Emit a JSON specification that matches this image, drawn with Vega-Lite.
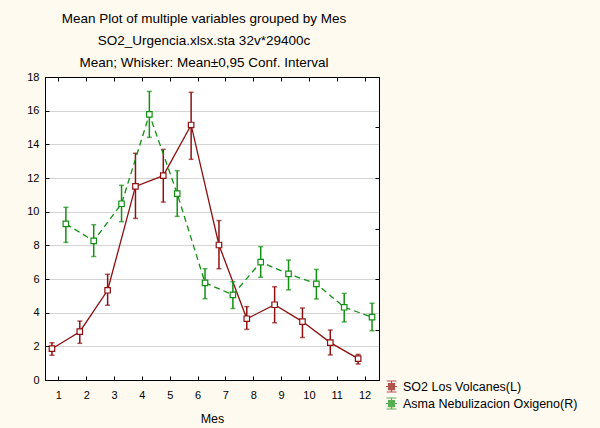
{
  "$schema": "https://vega.github.io/schema/vega-lite/v6.json",
  "autosize": "none",
  "width": 334,
  "height": 303,
  "padding": {"left": 45, "top": 77, "right": 221, "bottom": 48},
  "background": "#FFFAF0",
  "title": {
    "text": ["Mean Plot of multiple variables grouped by  Mes", "SO2_Urgencia.xlsx.sta 32v*29400c", "Mean; Whisker: Mean±0,95 Conf. Interval"],
    "fontSize": 13.5, "fontWeight": "normal", "font": "Liberation Sans", "color": "#000",
    "lineHeight": 22, "offset": 2, "anchor": "middle", "dx": -8
  },
  "datasets": {
    "so2": [
      {"Mes": 1, "serie": "SO2 Los Volcanes(L)", "mean": 1.86, "lo": 1.47, "hi": 2.22},
      {"Mes": 2, "serie": "SO2 Los Volcanes(L)", "mean": 2.87, "lo": 2.18, "hi": 3.5},
      {"Mes": 3, "serie": "SO2 Los Volcanes(L)", "mean": 5.33, "lo": 4.44, "hi": 6.28},
      {"Mes": 4, "serie": "SO2 Los Volcanes(L)", "mean": 11.5, "lo": 9.6, "hi": 13.47},
      {"Mes": 5, "serie": "SO2 Los Volcanes(L)", "mean": 12.14, "lo": 10.57, "hi": 13.7},
      {"Mes": 6, "serie": "SO2 Los Volcanes(L)", "mean": 15.15, "lo": 13.11, "hi": 17.09},
      {"Mes": 7, "serie": "SO2 Los Volcanes(L)", "mean": 8.02, "lo": 6.61, "hi": 9.47},
      {"Mes": 8, "serie": "SO2 Los Volcanes(L)", "mean": 3.64, "lo": 3.01, "hi": 4.36},
      {"Mes": 9, "serie": "SO2 Los Volcanes(L)", "mean": 4.47, "lo": 3.4, "hi": 5.54},
      {"Mes": 10, "serie": "SO2 Los Volcanes(L)", "mean": 3.47, "lo": 2.53, "hi": 4.28},
      {"Mes": 11, "serie": "SO2 Los Volcanes(L)", "mean": 2.22, "lo": 1.49, "hi": 2.97},
      {"Mes": 12, "serie": "SO2 Los Volcanes(L)", "mean": 1.27, "lo": 0.95, "hi": 1.52}
    ],
    "asma": [
      {"Mes": 1, "serie": "Asma Nebulizacion Oxigeno(R)", "mean": 6.18, "lo": 5.45, "hi": 6.84},
      {"Mes": 2, "serie": "Asma Nebulizacion Oxigeno(R)", "mean": 5.51, "lo": 4.89, "hi": 6.15},
      {"Mes": 3, "serie": "Asma Nebulizacion Oxigeno(R)", "mean": 6.98, "lo": 6.27, "hi": 7.71},
      {"Mes": 4, "serie": "Asma Nebulizacion Oxigeno(R)", "mean": 10.52, "lo": 9.61, "hi": 11.43},
      {"Mes": 5, "serie": "Asma Nebulizacion Oxigeno(R)", "mean": 7.38, "lo": 6.48, "hi": 8.29},
      {"Mes": 6, "serie": "Asma Nebulizacion Oxigeno(R)", "mean": 3.85, "lo": 3.22, "hi": 4.41},
      {"Mes": 7, "serie": "Asma Nebulizacion Oxigeno(R)", "mean": 3.37, "lo": 2.83, "hi": 3.89},
      {"Mes": 8, "serie": "Asma Nebulizacion Oxigeno(R)", "mean": 4.67, "lo": 4.07, "hi": 5.28},
      {"Mes": 9, "serie": "Asma Nebulizacion Oxigeno(R)", "mean": 4.2, "lo": 3.57, "hi": 4.75},
      {"Mes": 10, "serie": "Asma Nebulizacion Oxigeno(R)", "mean": 3.81, "lo": 3.21, "hi": 4.38},
      {"Mes": 11, "serie": "Asma Nebulizacion Oxigeno(R)", "mean": 2.88, "lo": 2.3, "hi": 3.43},
      {"Mes": 12, "serie": "Asma Nebulizacion Oxigeno(R)", "mean": 2.49, "lo": 1.95, "hi": 3.04}
    ]
  },
  "resolve": {"scale": {"y": "independent"}, "axis": {"x": "independent", "y": "independent"}},
  "layer": [
    {
      "data": {"name": "so2"},
      "encoding": {
        "x": {"field": "Mes", "type": "ordinal", "title": "Mes",
              "scale": {"paddingInner": 0, "paddingOuter": 0},
              "axis": {"orient": "bottom", "labelAngle": 0, "labelPadding": 13, "titlePadding": 12}},
        "xOffset": {"field": "serie", "type": "nominal",
                    "scale": {"domain": ["SO2 Los Volcanes(L)", "Asma Nebulizacion Oxigeno(R)"], "paddingInner": 0, "paddingOuter": 0}},
        "color": {"field": "serie", "type": "nominal",
                  "scale": {"domain": ["SO2 Los Volcanes(L)", "Asma Nebulizacion Oxigeno(R)"], "range": ["#8E0F0F", "#119011"]},
                  "legend": {"orient": "none", "legendX": 340, "legendY": 303, "title": null, "padding": 0,
                             "symbolType": "M-0.9,-1H0.9M0,-1V-0.55M0,0.55V1M-0.9,1H0.9M-1,0H-0.55M0.55,0H1M-0.55,-0.55H0.55V0.55H-0.55Z",
                             "symbolSize": 121, "symbolFillColor": "white", "symbolStrokeWidth": 1.2,
                             "labelFontSize": 12.5, "labelFont": "Liberation Sans", "labelColor": "#000", "labelOffset": 5, "rowPadding": 0, "labelLimit": 400}}
      },
      "layer": [
        {"mark": {"type": "rule", "strokeWidth": 1.5},
         "encoding": {"y": {"field": "lo", "type": "quantitative", "title": null, "scale": {"domain": [0, 18]},
                            "axis": {"orient": "left", "values": [0,2,4,6,8,10,12,14,16,18], "grid": true, "gridDash": [1, 1], "gridColor": "#a8a8a8", "labelPadding": 10}},
                      "y2": {"field": "hi"}}},
        {"mark": {"type": "tick", "thickness": 1.5, "size": 5},
         "encoding": {"y": {"field": "lo", "type": "quantitative", "title": null, "scale": {"domain": [0, 18]},
                            "axis": {"orient": "left", "values": [0,2,4,6,8,10,12,14,16,18], "grid": true, "gridDash": [1, 1], "gridColor": "#a8a8a8", "labelPadding": 10}}}},
        {"mark": {"type": "tick", "thickness": 1.5, "size": 5},
         "encoding": {"y": {"field": "hi", "type": "quantitative", "title": null, "scale": {"domain": [0, 18]},
                            "axis": {"orient": "left", "values": [0,2,4,6,8,10,12,14,16,18], "grid": true, "gridDash": [1, 1], "gridColor": "#a8a8a8", "labelPadding": 10}}}},
        {"mark": {"type": "line", "strokeWidth": 1.3},
         "encoding": {"y": {"field": "mean", "type": "quantitative", "title": null, "scale": {"domain": [0, 18]},
                            "axis": {"orient": "left", "values": [0,2,4,6,8,10,12,14,16,18], "grid": true, "gridDash": [1, 1], "gridColor": "#a8a8a8", "labelPadding": 10}}}},
        {"mark": {"type": "point", "shape": "square", "size": 30, "filled": false, "fill": "white", "strokeWidth": 1.2, "opacity": 1},
         "encoding": {"y": {"field": "mean", "type": "quantitative", "title": null, "scale": {"domain": [0, 18]},
                            "axis": {"orient": "left", "values": [0,2,4,6,8,10,12,14,16,18], "grid": true, "gridDash": [1, 1], "gridColor": "#a8a8a8", "labelPadding": 10}}}}
      ]
    },
    {
      "data": {"name": "asma"},
      "encoding": {
        "x": {"field": "Mes", "type": "ordinal", "title": null,
              "axis": {"orient": "top", "labels": false}},
        "xOffset": {"field": "serie", "type": "nominal"},
        "color": {"field": "serie", "type": "nominal"}
      },
      "layer": [
        {"mark": {"type": "rule", "strokeWidth": 1.5},
         "encoding": {"y": {"field": "lo", "type": "quantitative", "title": null, "scale": {"domain": [0, 12]},
                            "axis": {"orient": "right", "values": [0,2,4,6,8,10,12], "labels": false, "grid": false}},
                      "y2": {"field": "hi"}}},
        {"mark": {"type": "tick", "thickness": 1.5, "size": 5},
         "encoding": {"y": {"field": "lo", "type": "quantitative", "title": null, "scale": {"domain": [0, 12]},
                            "axis": {"orient": "right", "values": [0,2,4,6,8,10,12], "labels": false, "grid": false}}}},
        {"mark": {"type": "tick", "thickness": 1.5, "size": 5},
         "encoding": {"y": {"field": "hi", "type": "quantitative", "title": null, "scale": {"domain": [0, 12]},
                            "axis": {"orient": "right", "values": [0,2,4,6,8,10,12], "labels": false, "grid": false}}}},
        {"mark": {"type": "line", "strokeWidth": 1.3, "strokeDash": [6, 4]},
         "encoding": {"y": {"field": "mean", "type": "quantitative", "title": null, "scale": {"domain": [0, 12]},
                            "axis": {"orient": "right", "values": [0,2,4,6,8,10,12], "labels": false, "grid": false}}}},
        {"mark": {"type": "point", "shape": "square", "size": 30, "filled": false, "fill": "white", "strokeWidth": 1.2, "opacity": 1},
         "encoding": {"y": {"field": "mean", "type": "quantitative", "title": null, "scale": {"domain": [0, 12]},
                            "axis": {"orient": "right", "values": [0,2,4,6,8,10,12], "labels": false, "grid": false}}}}
      ]
    }
  ],
  "config": {
    "font": "Liberation Sans",
    "view": {"stroke": "#000", "strokeWidth": 1, "fill": "#ffffff"},
    "axis": {"domainColor": "#000", "domainWidth": 1, "tickColor": "#000", "tickSize": -4, "tickWidth": 1,
             "labelColor": "#000", "labelFont": "Liberation Sans", "labelFontSize": 11, "labelOverlap": false,
             "titleColor": "#000", "titleFont": "Liberation Sans", "titleFontSize": 12.5, "titleFontWeight": "normal", "grid": false}
  }
}
